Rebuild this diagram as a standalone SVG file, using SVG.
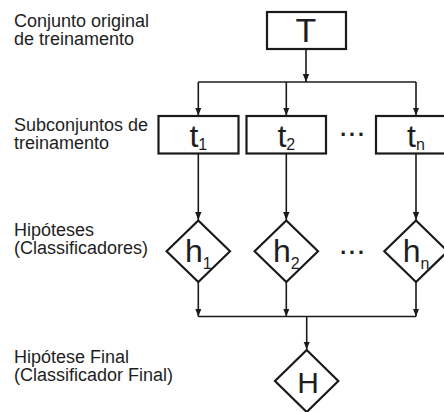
<svg xmlns="http://www.w3.org/2000/svg" width="444" height="412" viewBox="0 0 444 412">
<style>
.lbl{font-family:"Liberation Sans",Arial,sans-serif;font-size:18px;fill:#1e1e1e}
.nd{fill:#fff;stroke:#1a1a1a;stroke-width:2.2}
.big{font-family:"Liberation Sans",Arial,sans-serif;fill:#1e1e1e;text-anchor:middle}
.sub{font-size:16px}
.cn{fill:none;stroke:#1a1a1a;stroke-width:1.6}
.dots{font-family:"Liberation Sans",Arial,sans-serif;font-size:32px;fill:#1e1e1e;text-anchor:middle}
</style>
<defs>
<marker id="ah" viewBox="0 0 8 8" refX="8" refY="4" markerWidth="8" markerHeight="8" markerUnits="userSpaceOnUse" orient="auto">
<path d="M0,0.8 L8,4 L0,7.2 Z" fill="#1a1a1a"/>
</marker>
</defs>
<rect width="444" height="412" fill="#fff"/>

<g id="labels">
<text class="lbl" x="14" y="27">Conjunto original</text>
<text class="lbl" x="14" y="45">de treinamento</text>
<text class="lbl" x="14" y="131">Subconjuntos de</text>
<text class="lbl" x="14" y="149">treinamento</text>
<text class="lbl" x="14" y="236">Hipóteses</text>
<text class="lbl" x="14" y="254">(Classificadores)</text>
<text class="lbl" x="14" y="363">Hipótese Final</text>
<text class="lbl" x="14" y="381">(Classificador Final)</text>
</g>

<g id="connectors">
<path class="cn" d="M306,49 V82" marker-end="url(#ah)"/>
<path class="cn" d="M198.3,82 H416"/>
<path class="cn" d="M198.3,82 V115.5" marker-end="url(#ah)"/>
<path class="cn" d="M286.3,82 V115.5" marker-end="url(#ah)"/>
<path class="cn" d="M416,82 V115.5" marker-end="url(#ah)"/>
<path class="cn" d="M198.3,153.5 V220" marker-end="url(#ah)"/>
<path class="cn" d="M286.3,153.5 V220" marker-end="url(#ah)"/>
<path class="cn" d="M416,153.5 V220" marker-end="url(#ah)"/>
<path class="cn" d="M198.3,282 V316.5" marker-end="url(#ah)"/>
<path class="cn" d="M286.3,282 V316.5" marker-end="url(#ah)"/>
<path class="cn" d="M416,282 V316.5" marker-end="url(#ah)"/>
<path class="cn" d="M198.3,316.5 H416"/>
<path class="cn" d="M306.7,316.5 V349.5" marker-end="url(#ah)"/>
</g>

<g id="T">
<rect class="nd" x="267" y="12" width="79" height="37"/>
<text class="big" x="306" y="42" font-size="34">T</text>
</g>

<g id="t1">
<rect class="nd" x="158.5" y="116" width="80" height="37.5"/>
<text class="big" x="198.3" y="147" font-size="32">t<tspan class="sub" dy="3">1</tspan></text>
</g>
<g id="t2">
<rect class="nd" x="246.5" y="116" width="79.5" height="37.5"/>
<text class="big" x="286.3" y="147" font-size="32">t<tspan class="sub" dy="3">2</tspan></text>
</g>
<g id="tn">
<rect class="nd" x="376" y="116" width="80" height="37.5"/>
<text class="big" x="416" y="147" font-size="32">t<tspan class="sub" dy="3">n</tspan></text>
</g>
<text class="dots" x="352" y="135.5">...</text>

<g id="h1">
<path class="nd" d="M198.3,220.5 L230,251.3 L198.3,282 L166.6,251.3 Z"/>
<text class="big" x="198.3" y="261.7" font-size="32">h<tspan class="sub" dy="7">1</tspan></text>
</g>
<g id="h2">
<path class="nd" d="M286.3,220.5 L318,251.3 L286.3,282 L254.6,251.3 Z"/>
<text class="big" x="286.3" y="261.7" font-size="32">h<tspan class="sub" dy="7">2</tspan></text>
</g>
<g id="hn">
<path class="nd" d="M416,220.5 L447.7,251.3 L416,282 L384.3,251.3 Z"/>
<text class="big" x="416" y="261.7" font-size="32">h<tspan class="sub" dy="7">n</tspan></text>
</g>
<text class="dots" x="352" y="253.5">...</text>

<g id="H">
<path class="nd" d="M306.7,350 L338.3,381 L306.7,412 L275,381 Z"/>
<text class="big" x="308" y="392.5" font-size="30">H</text>
</g>
</svg>
